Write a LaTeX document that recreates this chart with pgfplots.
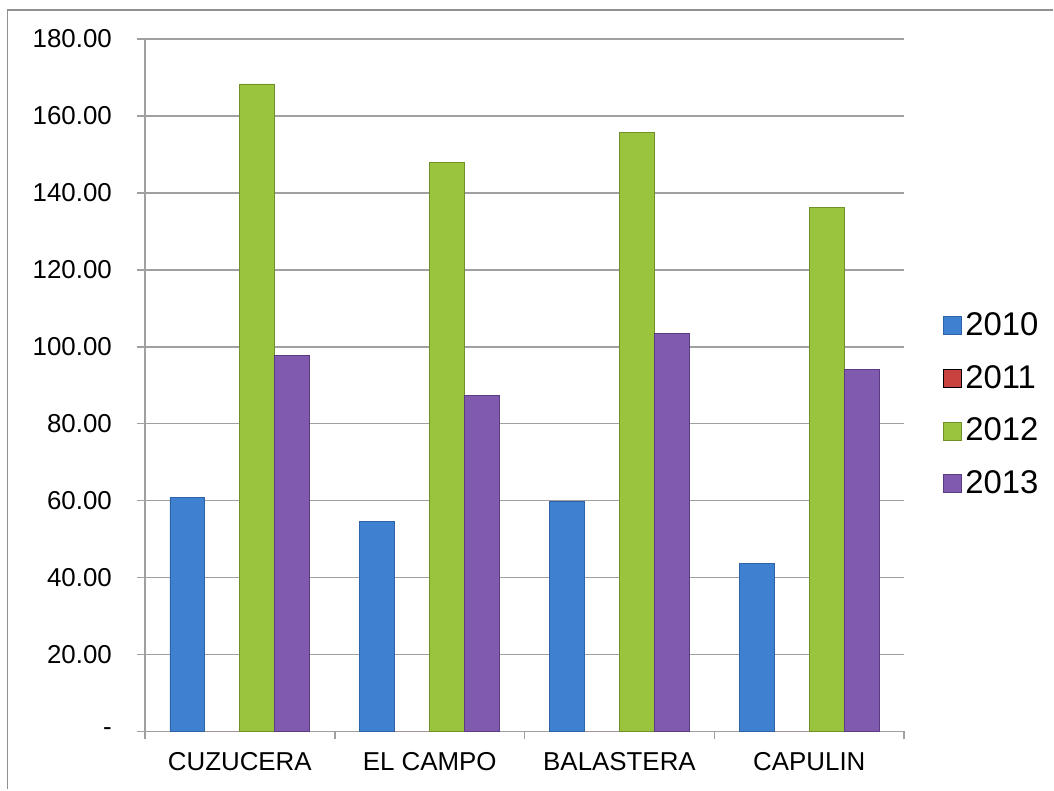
\documentclass[border=0pt]{standalone}
\usepackage{pgfplots}
\pgfplotsset{compat=1.18}
\usepackage{fontspec}
\setmainfont{Liberation Sans}
\definecolor{bF}{HTML}{3F80D0}
\definecolor{bD}{HTML}{2C62A8}
\definecolor{rF}{HTML}{C8423F}
\definecolor{gF}{HTML}{9AC33E}
\definecolor{gD}{HTML}{6F9128}
\definecolor{pF}{HTML}{7F5AAE}
\definecolor{pD}{HTML}{5A3C85}
\definecolor{gridc}{HTML}{A0A0A0}
\pgfplotsset{sqlegend/.style={legend image code/.code={\draw[##1] (0bp,-4.5bp) rectangle (9bp,4.5bp);}}}
\begin{document}
\begin{tikzpicture}
\begin{axis}[
  at={(0,0)}, anchor=south west,
  scale only axis, width=380bp, height=346.5bp,
  xmin=-0.5, xmax=3.5, ymin=0, ymax=180,
  ybar=0pt, bar width=0.184,
  axis x line*=bottom, axis y line*=left,
  axis line style={draw=gridc, line width=0.8bp, -},
  ytick={0,20,...,180},
  yticklabels={-,20.00,40.00,60.00,80.00,100.00,120.00,140.00,160.00,180.00},
  xtick={-0.5,0.5,1.5,2.5,3.5},
  xticklabels={CUZUCERA,EL CAMPO,BALASTERA,CAPULIN,},
  xticklabel style={xshift=47.5bp, yshift=-3bp},
  yticklabel style={xshift=-9bp},
  tick align=outside, major tick length=4bp,
  tick style={draw=gridc, line width=0.8bp},
  ymajorgrids, grid style={draw=gridc, line width=0.8bp},
  ticklabel style={font=\fontsize{13}{15}\selectfont},
  legend style={draw=none, fill=none, at={(1.05,0.472)}, anchor=west,
    font=\fontsize{16.5}{19}\selectfont, row sep=9.5bp, inner sep=0pt,
    legend cell align=left},
]
\addplot[draw=bD, line width=0.4bp, fill=bF, sqlegend]
  coordinates {(0,60.8) (1,54.6) (2,59.7) (3,43.6)};
\addplot[draw=none, fill=rF, sqlegend]
  coordinates {(0,0) (1,0) (2,0) (3,0)};
\addplot[draw=gD, line width=0.4bp, fill=gF, sqlegend]
  coordinates {(0,168.3) (1,147.9) (2,155.8) (3,136.1)};
\addplot[draw=pD, line width=0.4bp, fill=pF, sqlegend]
  coordinates {(0,97.7) (1,87.3) (2,103.4) (3,94.0)};
\legend{2010,2011,2012,2013}
\end{axis}
\draw[draw=gridc!90!black, line width=0.9bp] (-68.75bp,-29bp) -- (-68.75bp,361bp) -- (454.5bp,361bp);
\path (-72.5bp,-29bp) rectangle (454.5bp,366bp);
\end{tikzpicture}
\end{document}
